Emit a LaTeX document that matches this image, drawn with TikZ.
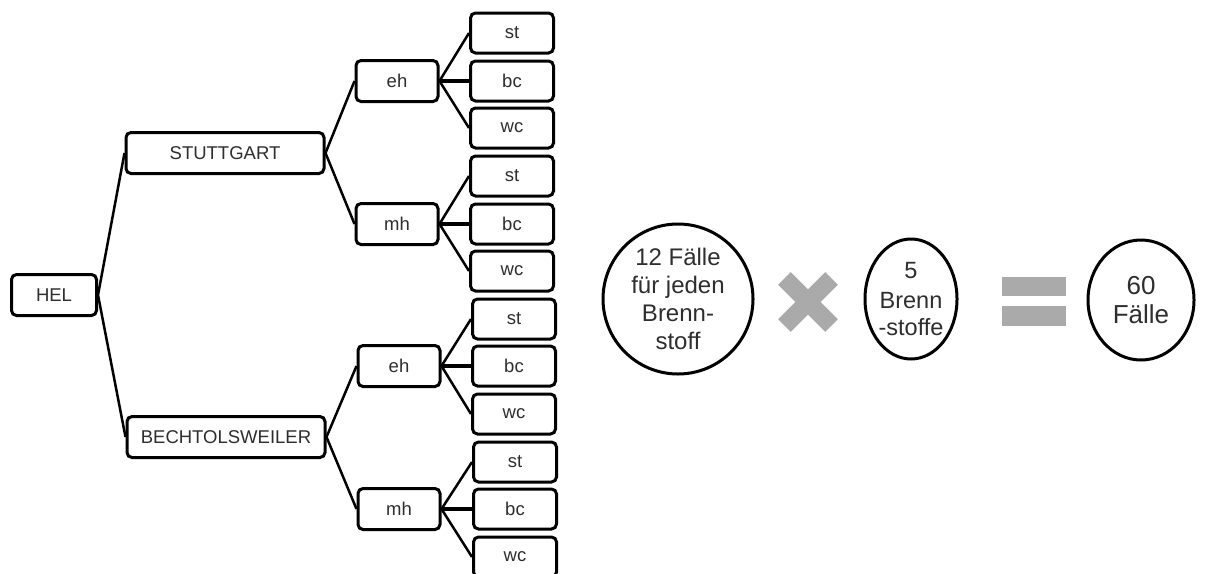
\documentclass[tikz,border=0pt]{standalone}
\usepackage{fontspec}
\setmainfont{Liberation Sans}
\usetikzlibrary{shapes.geometric}
\definecolor{txt}{HTML}{2E2E2E}
\definecolor{sym}{HTML}{AAAAAA}
\begin{document}
\begin{tikzpicture}[x=1pt,y=-1pt,
  box/.style={draw=black, line width=3pt, rounded corners=5pt, fill=white,
    inner sep=0pt, text=txt, font=\fontsize{18.5}{21}\selectfont},
  leaf/.style={box, minimum width=83pt, minimum height=40pt},
  mid/.style={box, minimum width=82pt, minimum height=41pt},
  city/.style={box, minimum width=198pt, minimum height=41pt},
  link/.style={line width=2.5pt},
  mainlink/.style={line width=4pt},
  bubble/.style={draw=black, line width=3pt, ellipse, inner sep=0pt,
    align=center, text=txt},
  bar/.style={fill=sym, draw=none}
]
\useasboundingbox (0,0) rectangle (1214,573);

% root and cities
\node[box, minimum width=85pt, minimum height=41pt] (hel) at (54,295) {HEL};
\node[city] (stg) at (225,153) {STUTTGART};
\node[city] (bec) at (226,437) {BECHTOLSWEILER};

% heating variants
\node[mid] (eh1) at (397,81) {eh};
\node[mid] (mh1) at (397,224) {mh};
\node[mid] (eh2) at (399,366) {eh};
\node[mid] (mh2) at (399,509) {mh};

% fuel leaves
\foreach \g/\x/\ya/\yb/\yc in {a/512/33/81/128, b/512/176/224/271, c/514/319/366/414, d/515/462/509/557}{
  \node[leaf] (st\g) at (\x,\ya) {st};
  \node[leaf] (bc\g) at (\x,\yb) {bc};
  \node[leaf] (wc\g) at (\x,\yc) {wc};
}

% connectors
\draw[link] (hel.east) -- (stg.west);
\draw[link] (hel.east) -- (bec.west);
\draw[link] (stg.east) -- (eh1.west);
\draw[link] (stg.east) -- (mh1.west);
\draw[link] (bec.east) -- (eh2.west);
\draw[link] (bec.east) -- (mh2.west);
\foreach \p/\g in {eh1/a, mh1/b, eh2/c, mh2/d}{
  \draw[link] (\p.east) -- (st\g.west);
  \draw[mainlink] (\p.east) -- (bc\g.west);
  \draw[link] (\p.east) -- (wc\g.west);
}

% calculation
\node[bubble, minimum width=150pt, minimum height=150pt,
  font=\fontsize{24}{28}\selectfont] (c12) at (678,299)
  {12 Fälle\\für jeden\\Brenn-\\stoff};
\node[bubble, minimum width=92pt, minimum height=120pt,
  font=\fontsize{23.5}{27}\selectfont] (c5) at (911,299)
  {5\\[3pt]Brenn\\-stoffe};
\node[bubble, minimum width=106pt, minimum height=120pt,
  font=\fontsize{26}{29}\selectfont] (c60) at (1141,300)
  {60\\Fälle};

% multiplication sign
\draw[sym, line width=18pt] (784.4,278.4) -- (831.6,325.6);
\draw[sym, line width=18pt] (784.4,325.6) -- (831.6,278.4);

% equals sign
\fill[bar] (1002,277) rectangle (1066,296);
\fill[bar] (1002,306) rectangle (1066,326);
\end{tikzpicture}
\end{document}
